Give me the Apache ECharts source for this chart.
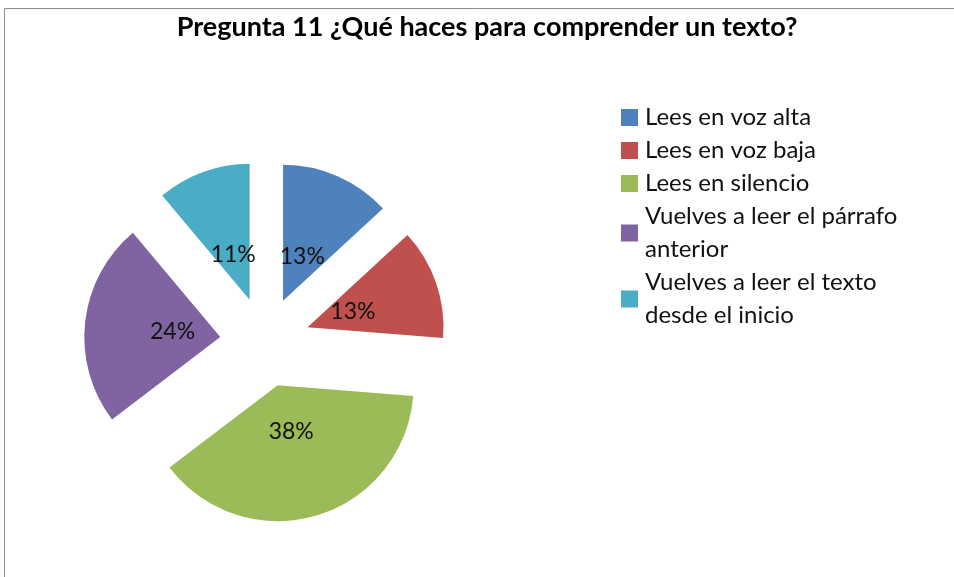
<!DOCTYPE html>
<html>
<head>
<meta charset="utf-8">
<script src="https://cdn.jsdelivr.net/npm/echarts@6/dist/echarts.min.js"></script>
<style>
  html, body { margin: 0; padding: 0; background: #fff; }
  #chart { width: 954px; height: 577px; }
</style>
</head>
<body>
<div id="chart"></div>
<script>
const categories = [
  'Lees en voz alta',
  'Lees en voz baja',
  'Lees en silencio',
  'Vuelves a leer el párrafo anterior',
  'Vuelves a leer el texto desde el inicio'
];
const legendLabels = [
  'Lees en voz alta',
  'Lees en voz baja',
  'Lees en silencio',
  'Vuelves a leer el párrafo\nanterior',
  'Vuelves a leer el texto\ndesde el inicio'
];
const values = [13, 13, 38, 24, 11];
const colors = ['#4F81BD', '#C0504D', '#9BBB59', '#8064A2', '#4BACC6'];

const font = 'Lato, "Open Sans", sans-serif';
const center = [265, 342];
const radius = 136;
const offset = 45;
// Excel puts the data labels closer to the slice tip than ECharts' r/2
const labelPull = 23;

const total = values.reduce((a, b) => a + b, 0);
const midAngles = [];
let acc = 0;
values.forEach(v => {
  midAngles.push((acc + v / 2) / total * Math.PI * 2);
  acc += v;
});

const chart = echarts.init(document.getElementById('chart'));

chart.setOption({
  animation: false,
  color: colors,
  title: {
    text: 'Pregunta 11 ¿Qué haces para comprender un texto?',
    left: 487,
    textAlign: 'center',
    top: 14,
    padding: 0,
    textStyle: { fontFamily: font, fontWeight: 'bold', fontSize: 27, color: '#000' }
  },
  legend: {
    orient: 'vertical',
    left: 621,
    top: 101,
    padding: 0,
    itemWidth: 17,
    itemHeight: 17,
    itemGap: 0,
    icon: 'rect',
    selectedMode: false,
    data: categories,
    formatter: name => legendLabels[categories.indexOf(name)],
    textStyle: { fontFamily: font, fontSize: 24, lineHeight: 33, color: '#111', padding: [0, 0, 0, 2] }
  },
  graphic: [{
    type: 'rect',
    silent: true,
    shape: { x: 4.5, y: 8.5, width: 1000, height: 700 },
    style: { fill: 'none', stroke: '#8c8c8c', lineWidth: 1 }
  }],
  series: [
    {
      type: 'pie',
      center,
      radius,
      startAngle: 90,
      clockwise: true,
      selectedMode: 'multiple',
      selectedOffset: offset,
      silent: true,
      avoidLabelOverlap: false,
      emphasis: { disabled: true },
      label: {
        show: true,
        position: 'inside',
        formatter: p => Math.round(p.percent) + '%',
        fontFamily: font,
        fontSize: 23,
        color: '#111'
      },
      labelLine: { show: false },
      labelLayout: p => ({
        dx: -labelPull * Math.sin(midAngles[p.dataIndex]),
        dy: labelPull * Math.cos(midAngles[p.dataIndex])
      }),
      data: categories.map((name, i) => ({
        name, value: values[i], selected: true, itemStyle: { color: colors[i] }
      }))
    }
  ]
});
</script>
</body>
</html>
